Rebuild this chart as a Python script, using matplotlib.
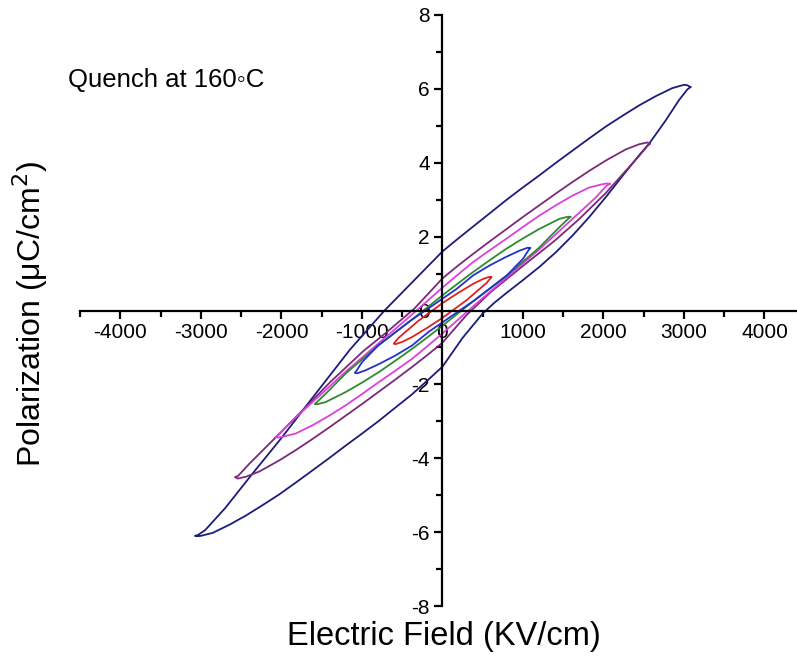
import matplotlib
matplotlib.use("Agg")
import matplotlib.pyplot as plt
from matplotlib.ticker import MultipleLocator

plt.rcParams['font.family'] = ['Liberation Sans', 'DejaVu Sans']

# ---- data: upper branch (field decreasing) and lower branch (field increasing) per loop ----
navy_up_E = [3080, 3040, 3000, 2854, 2647, 2441, 2235, 2029, 1823, 1616, 1410, 1204, 998, 792, 586, 379, 190, 0, -360, -720, -1150, -1646, -2000, -2354, -2700, -2950, -3040, -3075]
navy_up_P = [6.05, 6.10, 6.11, 6.02, 5.80, 5.55, 5.27, 4.98, 4.66, 4.33, 4.00, 3.66, 3.33, 2.99, 2.63, 2.27, 1.94, 1.60, 0.80, 0.00, -1.06, -2.45, -3.45, -4.40, -5.35, -5.95, -6.08, -6.10]
navy_lo_E = [-3075, -3040, -3000, -2854, -2647, -2441, -2235, -2029, -1823, -1616, -1410, -1204, -998, -792, -586, -379, -190, 0, 250, 500, 650, 792, 998, 1204, 1410, 1616, 1823, 2029, 2235, 2441, 2565, 2771, 2936, 3040, 3080]
navy_lo_P = [-6.10, -6.11, -6.10, -6.02, -5.80, -5.55, -5.27, -4.98, -4.66, -4.33, -4.00, -3.66, -3.33, -2.99, -2.63, -2.27, -1.90, -1.52, -0.74, -0.08, 0.22, 0.47, 0.82, 1.18, 1.58, 2.03, 2.53, 3.07, 3.64, 4.20, 4.51, 5.14, 5.69, 5.98, 6.05]

purple_up_E = [2573, 2544, 2441, 2276, 2029, 1823, 1616, 1410, 1204, 998, 792, 586, 379, 190, 0, -350, -700, -984, -1400, -1646, -2060, -2400, -2540, -2578]
purple_up_P = [4.51, 4.55, 4.50, 4.36, 4.06, 3.78, 3.48, 3.17, 2.85, 2.53, 2.20, 1.87, 1.53, 1.21, 0.87, 0.05, -0.60, -1.10, -1.95, -2.50, -3.41, -4.15, -4.48, -4.51]
purple_lo_E = [-2578, -2544, -2441, -2276, -2029, -1823, -1616, -1410, -1204, -998, -792, -586, -379, -190, 0, 300, 600, 984, 1400, 1700, 2029, 2276, 2441, 2540, 2573]
purple_lo_P = [-4.51, -4.55, -4.50, -4.36, -4.06, -3.78, -3.48, -3.17, -2.85, -2.53, -2.20, -1.87, -1.53, -1.21, -0.87, -0.12, 0.50, 1.18, 1.90, 2.48, 3.18, 3.78, 4.18, 4.44, 4.51]

magenta_up_E = [2078, 2040, 1988, 1823, 1616, 1410, 1204, 998, 792, 586, 379, 190, 0, -400, -800, -1200, -1600, -1900, -2040, -2078]
magenta_up_P = [3.43, 3.44, 3.42, 3.33, 3.11, 2.85, 2.57, 2.26, 1.94, 1.63, 1.31, 0.97, 0.62, -0.15, -0.90, -1.65, -2.45, -3.05, -3.38, -3.43]
magenta_lo_E = [-2078, -2040, -1988, -1823, -1616, -1410, -1204, -998, -792, -586, -379, -190, 0, 400, 800, 1200, 1600, 1900, 2040, 2078]
magenta_lo_P = [-3.43, -3.44, -3.42, -3.33, -3.11, -2.85, -2.57, -2.26, -1.94, -1.63, -1.31, -0.97, -0.62, 0.15, 0.90, 1.65, 2.45, 3.05, 3.38, 3.43]

green_up_E = [1588, 1560, 1452, 1204, 998, 792, 586, 379, 190, 0, -400, -800, -1200, -1450, -1560, -1588]
green_up_P = [2.53, 2.54, 2.48, 2.21, 1.95, 1.67, 1.36, 1.04, 0.73, 0.41, -0.28, -0.95, -1.70, -2.25, -2.48, -2.53]
green_lo_E = [-1588, -1560, -1452, -1204, -998, -792, -586, -379, -190, 0, 400, 800, 1200, 1450, 1560, 1588]
green_lo_P = [-2.53, -2.54, -2.48, -2.21, -1.95, -1.67, -1.36, -1.04, -0.73, -0.41, 0.28, 0.95, 1.70, 2.25, 2.48, 2.53]

blue_up_E = [1089, 1060, 957, 780, 586, 380, 173, 0, -400, -800, -1000, -1065, -1089]
blue_up_P = [1.69, 1.70, 1.62, 1.44, 1.22, 0.95, 0.58, 0.32, -0.28, -0.95, -1.40, -1.62, -1.69]
blue_lo_E = [-1089, -1060, -957, -780, -586, -380, -173, 0, 400, 800, 1000, 1065, 1089]
blue_lo_P = [-1.69, -1.70, -1.62, -1.44, -1.22, -0.95, -0.58, -0.32, 0.28, 0.95, 1.40, 1.62, 1.69]

red_up_E = [606, 580, 500, 379, 190, 0, -300, -550, -606]
red_up_P = [0.90, 0.91, 0.85, 0.72, 0.47, 0.20, -0.28, -0.75, -0.90]
red_lo_E = [-606, -580, -500, -379, -190, 0, 300, 550, 606]
red_lo_P = [-0.90, -0.91, -0.85, -0.72, -0.47, -0.20, 0.28, 0.75, 0.90]

loops = [
    (navy_up_E, navy_up_P, navy_lo_E, navy_lo_P, '#1c1c7c'),
    (purple_up_E, purple_up_P, purple_lo_E, purple_lo_P, '#7a2a78'),
    (magenta_up_E, magenta_up_P, magenta_lo_E, magenta_lo_P, '#dc40dc'),
    (green_up_E, green_up_P, green_lo_E, green_lo_P, '#2e8b2e'),
    (blue_up_E, blue_up_P, blue_lo_E, blue_lo_P, '#2233cc'),
    (red_up_E, red_up_P, red_lo_E, red_lo_P, '#dd2222'),
]

x_ticks = [-4000, -3000, -2000, -1000, 0, 1000, 2000, 3000, 4000]
y_ticks = [-8, -6, -4, -2, 0, 2, 4, 6, 8]

fig = plt.figure(figsize=(7.97, 6.59), dpi=100)
ax = fig.add_axes([80.25 / 797, 53 / 659, 1 - 80.25 / 797, 591 / 659])

for ue, up, le, lp, c in loops:
    ax.plot(ue + le, up + lp, color=c, lw=1.3, solid_joinstyle='round')

ax.set_xlim(-4500, 4404)
ax.set_ylim(-8, 8)

ax.spines['left'].set_position(('data', 0))
ax.spines['bottom'].set_position(('data', 0))
ax.spines['top'].set_visible(False)
ax.spines['right'].set_visible(False)
for s in ('left', 'bottom'):
    ax.spines[s].set_linewidth(1.6)

ax.set_xticks(x_ticks)
ax.set_yticks(y_ticks)
ax.set_xticklabels([str(v) for v in x_ticks])
ax.set_yticklabels([str(v) for v in y_ticks])
ax.xaxis.set_minor_locator(MultipleLocator(500))
ax.yaxis.set_minor_locator(MultipleLocator(1))
ax.tick_params(which='major', direction='out', length=6, width=1.6, labelsize=15, pad=3)
ax.tick_params(which='minor', direction='out', length=4, width=1.6)

fig.text(444 / 797, 1 - 636 / 659, 'Electric Field (KV/cm)', ha='center', va='center', fontsize=23.5)
fig.text(30 / 797, 1 - 314 / 659, 'Polarization (μC/cm$^2$)', ha='center', va='center',
         rotation=90, fontsize=23)
fig.text(68 / 797, 1 - 80 / 659, 'Quench at 160◦C', ha='left', va='center', fontsize=18.5)

fig.savefig('out.png', dpi=100)
